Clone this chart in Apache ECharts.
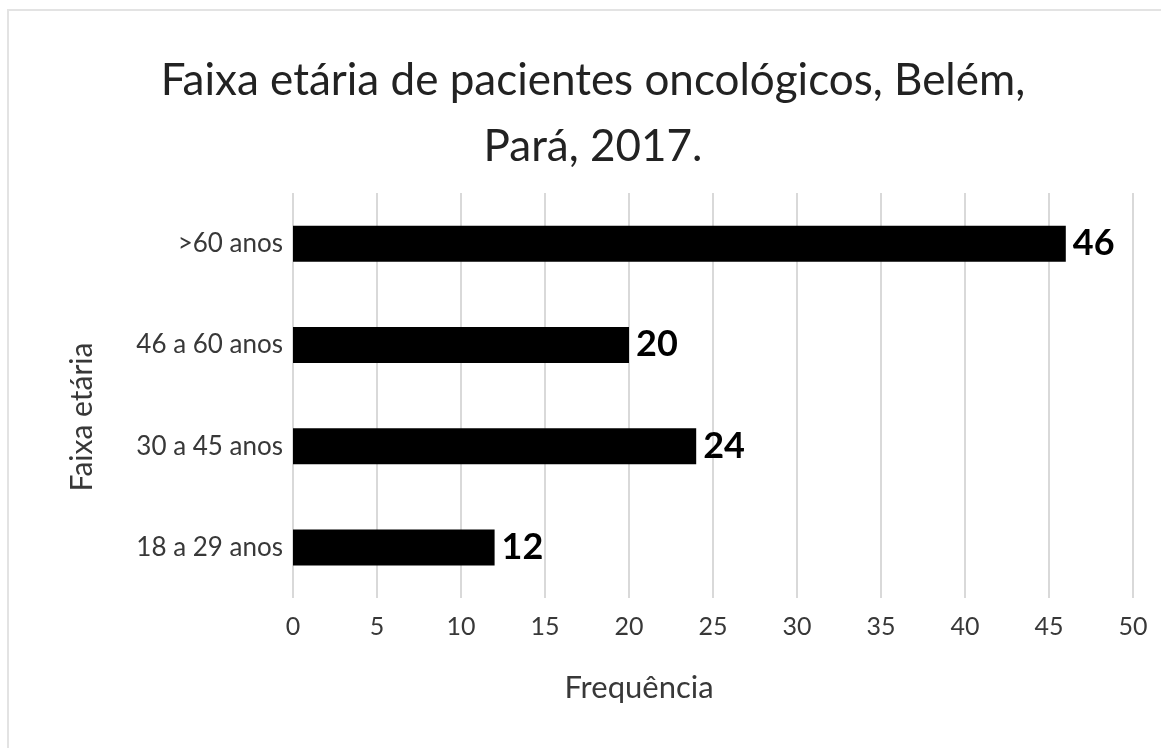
<!DOCTYPE html>
<html>
<head>
<meta charset="utf-8">
<script src="https://cdn.jsdelivr.net/npm/echarts@6/dist/echarts.min.js"></script>
<style>
	html, body { margin: 0; padding: 0; background: #fff; }
	#chart { width: 1161px; height: 748px; }
</style>
</head>
<body>
<div id="chart"></div>
<script>
// dados do gráfico
var faixas = ['18 a 29 anos', '30 a 45 anos', '46 a 60 anos', '>60 anos'];
var frequencias = [12, 24, 20, 46];
var tituloLinhas = ['Faixa etária de pacientes oncológicos, Belém,', 'Pará, 2017.'];
var nomeEixoX = 'Frequência';
var nomeEixoY = 'Faixa etária';

var myChart = echarts.init(document.getElementById('chart'));
var fonte = 'Lato, "DejaVu Sans", sans-serif';

var option = {
	backgroundColor: '#fff',
	animation: false,
	title: {
		text: tituloLinhas.join('\n'),
		left: 588,
		top: 43,
		textAlign: 'center',
		textStyle: {
			fontFamily: fonte,
			fontSize: 44,
			fontWeight: 'normal',
			color: '#222',
			lineHeight: 66
		}
	},
	graphic: [
		{
			type: 'rect',
			shape: { x: 8, y: 10, width: 1200, height: 800 },
			style: { fill: 'none', stroke: '#e3e3e3', lineWidth: 2 },
			silent: true
		},
		{
			type: 'text',
			x: 639,
			y: 688,
			style: {
				text: nomeEixoX,
				fontFamily: fonte,
				fontSize: 31,
				fill: '#383838',
				textAlign: 'center',
				textVerticalAlign: 'middle'
			}
		},
		{
			type: 'text',
			x: 82,
			y: 417,
			rotation: Math.PI / 2,
			style: {
				text: nomeEixoY,
				fontFamily: fonte,
				fontSize: 30,
				fill: '#383838',
				textAlign: 'center',
				textVerticalAlign: 'middle'
			}
		}
	],
	grid: {
		left: 293,
		right: 28,
		top: 193,
		bottom: 150
	},
	xAxis: {
		type: 'value',
		min: 0,
		max: 50,
		interval: 5,
		axisLine: { show: false },
		axisTick: { show: false },
		axisLabel: {
			margin: 16,
			fontFamily: fonte,
			fontSize: 25,
			color: '#383838'
		},
		splitLine: {
			show: true,
			lineStyle: { color: '#d9d9d9', width: 2 }
		}
	},
	yAxis: {
		type: 'category',
		data: faixas,
		axisLine: { show: false },
		axisTick: { show: false },
		axisLabel: {
			margin: 10,
			fontFamily: fonte,
			fontSize: 26,
			color: '#383838'
		},
		splitLine: { show: false }
	},
	series: [{
		type: 'bar',
		data: frequencias,
		barWidth: 36,
		itemStyle: { color: '#000' },
		label: {
			show: true,
			position: 'right',
			distance: 7,
			fontFamily: fonte,
			fontSize: 36,
			fontWeight: 'bold',
			color: '#000'
		}
	}]
};

myChart.setOption(option);
</script>
</body>
</html>
